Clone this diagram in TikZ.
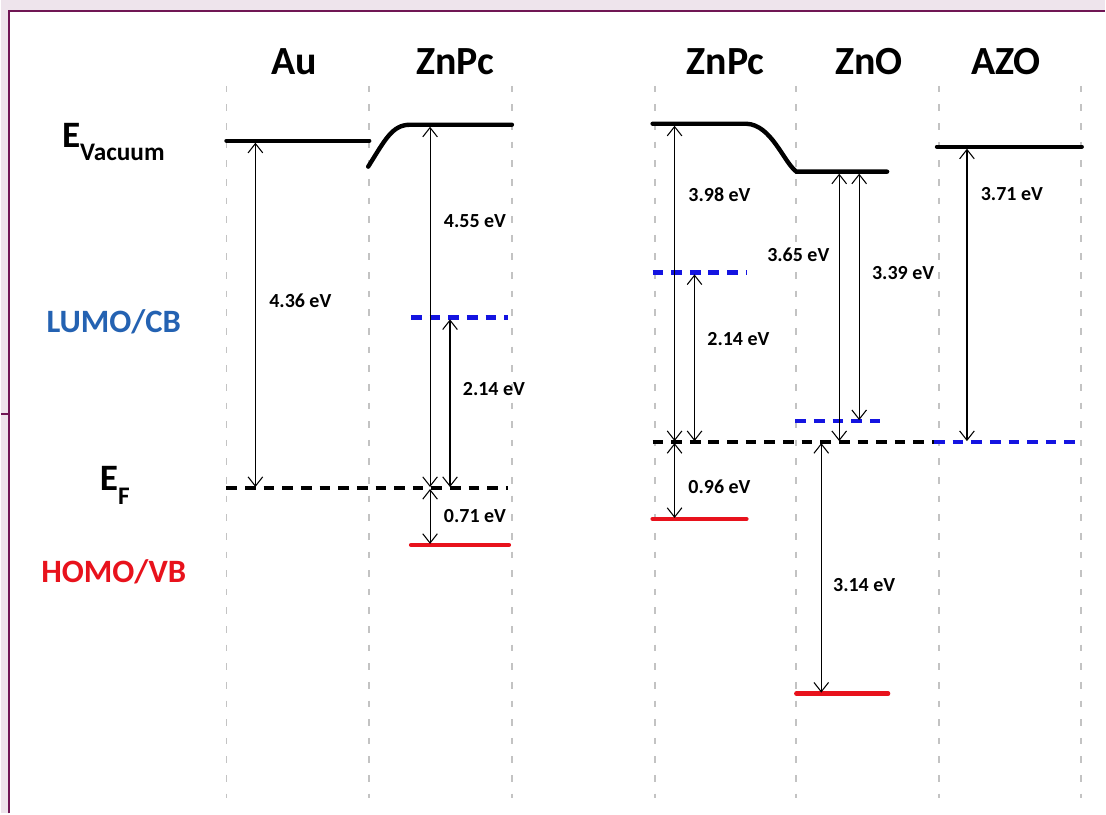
\documentclass[tikz,border=0pt]{standalone}
\usepackage{fontspec}
\setmainfont{Carlito}
\usetikzlibrary{arrows.meta}
\definecolor{pinkbg}{RGB}{238,228,236}
\definecolor{framec}{RGB}{112,22,84}
\definecolor{lumoblue}{RGB}{36,98,178}
\definecolor{homored}{RGB}{232,18,28}
\definecolor{dashblue}{RGB}{20,20,225}
\definecolor{guidegray}{RGB}{195,195,195}
\begin{document}
\begin{tikzpicture}[x=0.75pt,y=-0.75pt,
  guide/.style={draw=guidegray,line width=1.4pt,dash pattern=on 5pt off 9pt},
  level/.style={line width=3.3pt,line cap=round},
  vaclevel/.style={level,black},
  redlevel/.style={level,homored},
  dashlvl/.style={line width=3.3pt,dash pattern=on 8pt off 6pt},
  efline/.style={dashlvl,black},
  bluelvl/.style={dashlvl,dashblue},
  gap/.style={line width=0.8pt,{Straight Barb[length=7pt,width=11pt]}-{Straight Barb[length=7pt,width=11pt]}},
  ev/.style={font=\fontsize{15}{15}\selectfont\bfseries,inner sep=0pt},
  title/.style={font=\fontsize{30}{30}\selectfont\bfseries,inner sep=0pt},
  side/.style={font=\fontsize{24.5}{24.5}\selectfont\bfseries,inner sep=0pt}]
% background and frame
\fill[pinkbg] (0,0) rectangle (1106,815);
\fill[white] (8,11) rectangle (1106,815);
\draw[framec,line width=2pt] (8,815) -- (8,11) -- (1106,11);
\draw[framec,line width=1.4pt] (0,415) -- (8,415);
\useasboundingbox (0,0) rectangle (1106,815);
% guide lines
\foreach \gx in {226,369,512,655,797,940,1082}{
  \draw[guide] (\gx,86) -- (\gx,800);
}
% titles
\node[title] (tAu) at (294,62) {Au};
\node[title] (tZnPcL) at (455,62) {ZnPc};
\node[title] (tZnPcR) at (726,62) {ZnPc};
\node[title] (tZnO) at (870,62) {ZnO};
\node[title] (tAZO) at (1007,62) {AZO};
% side labels
\node[font=\fontsize{28}{28}\selectfont\bfseries,inner sep=0pt,anchor=base west] (evac) at (61,148) {E\raisebox{-0.35em}{\fontsize{19}{19}\selectfont Vacuum}};
\node[side,text=lumoblue] (lumo) at (113,322) {LUMO/CB};
\node[font=\fontsize{28}{28}\selectfont\bfseries,inner sep=0pt,anchor=base west] (ef) at (99,492) {E\raisebox{-0.35em}{\fontsize{19}{19}\selectfont F}};
\node[side,text=homored] (homo) at (113,573) {HOMO/VB};
% ---- coordinates of levels
\coordinate (auvacL) at (226,141); \coordinate (auvacR) at (369,141);
\coordinate (zlvacS) at (368,167); \coordinate (zlvacE) at (512,125);
\coordinate (zllumoL) at (411,318); \coordinate (zllumoR) at (508,318);
\coordinate (efLL) at (226,489); \coordinate (efLR) at (508,489);
\coordinate (zlhomoL) at (411,546); \coordinate (zlhomoR) at (509,546);
\coordinate (zrvacS) at (653,124); \coordinate (zrvacE) at (888,172);
\coordinate (zrlumoL) at (653,273); \coordinate (zrlumoR) at (748,273);
\coordinate (efRL) at (653,443); \coordinate (efRM) at (935,443); \coordinate (efRR) at (1080,443);
\coordinate (zrhomoL) at (653,520); \coordinate (zrhomoR) at (747,520);
\coordinate (zncbL) at (796,422); \coordinate (zncbR) at (888,422);
\coordinate (znvbL) at (797,695); \coordinate (znvbR) at (889,695);
\coordinate (azovacL) at (938,147); \coordinate (azovacR) at (1083,147);
% ---- levels
\draw[vaclevel] (auvacL) -- (auvacR);
\draw[vaclevel] (zlvacS) .. controls (385,140) and (392,125) .. (410,125) -- (zlvacE);
\draw[bluelvl] (zllumoL) -- (zllumoR);
\draw[efline] (efLL) -- (efLR);
\draw[redlevel] (zlhomoL) -- (zlhomoR);
\draw[vaclevel] (zrvacS) -- (747,124) .. controls (772,125) and (784,162) .. (797,172) -- (zrvacE);
\draw[bluelvl] (zrlumoL) -- (zrlumoR);
\draw[efline] (efRL) -- (efRM);
\draw[bluelvl] (efRM) -- (efRR);
\draw[redlevel] (zrhomoL) -- (zrhomoR);
\draw[bluelvl] (zncbL) -- (zncbR);
\draw[redlevel] (znvbL) -- (znvbR);
\draw[vaclevel] (azovacL) -- (azovacR);
% ---- arrow end points
\coordinate (a1t) at (255,143); \coordinate (a1b) at (255,488);
\coordinate (a2t) at (430,127); \coordinate (a2b) at (430,488);
\coordinate (a3t) at (450,320); \coordinate (a3b) at (450,488);
\coordinate (a4t) at (430,490); \coordinate (a4b) at (430,545);
\coordinate (a5t) at (675,126); \coordinate (a5b) at (675,442);
\coordinate (a6t) at (695,275); \coordinate (a6b) at (695,442);
\coordinate (a7t) at (675,444); \coordinate (a7b) at (675,519);
\coordinate (a8t) at (840,174); \coordinate (a8b) at (840,442);
\coordinate (a9t) at (860,174); \coordinate (a9b) at (860,421);
\coordinate (a10t) at (822,444); \coordinate (a10b) at (822,694);
\coordinate (a11t) at (968,149); \coordinate (a11b) at (968,442);
\draw[gap] (a1t) -- (a1b);
\draw[gap] (a2t) -- (a2b);
\draw[gap] (a3t) -- (a3b);
\draw[gap] (a4t) -- (a4b);
\draw[gap] (a5t) -- (a5b);
\draw[gap] (a6t) -- (a6b);
\draw[gap] (a7t) -- (a7b);
\draw[gap] (a8t) -- (a8b);
\draw[gap] (a9t) -- (a9b);
\draw[gap] (a10t) -- (a10b);
\draw[gap] (a11t) -- (a11b);
% ---- energy labels
\node[ev] (l1) at (300,301) {4.36 eV};
\node[ev] (l2) at (475,222) {4.55 eV};
\node[ev] (l3) at (494,390) {2.14 eV};
\node[ev] (l4) at (475,517) {0.71 eV};
\node[ev] (l5) at (720,195) {3.98 eV};
\node[ev] (l6) at (739,340) {2.14 eV};
\node[ev] (l7) at (720,488) {0.96 eV};
\node[ev] (l8) at (799,255) {3.65 eV};
\node[ev] (l9) at (904,274) {3.39 eV};
\node[ev] (l10) at (865,586) {3.14 eV};
\node[ev] (l11) at (1013,194) {3.71 eV};
\end{tikzpicture}
\end{document}
